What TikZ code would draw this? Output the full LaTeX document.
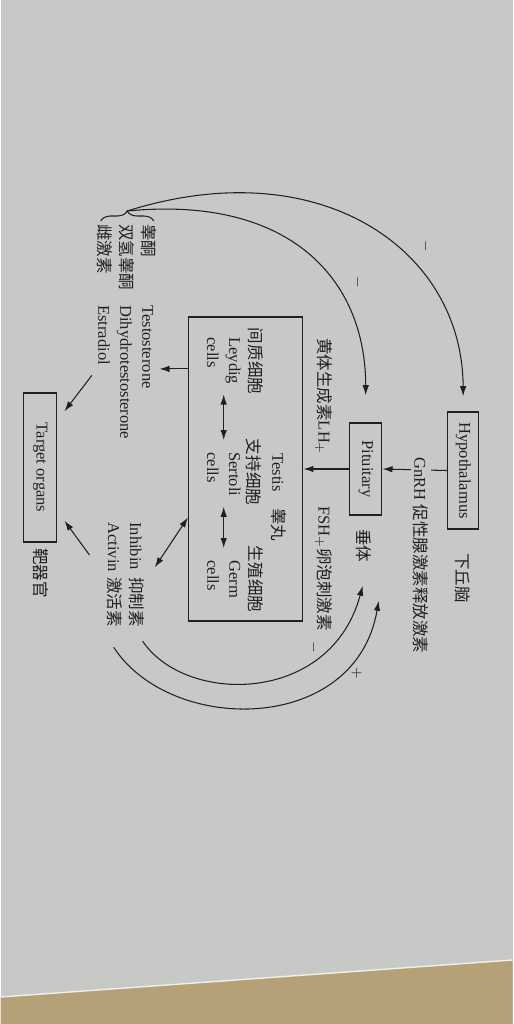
\documentclass[tikz,border=0pt]{standalone}
\usepackage{fontspec}
\setmainfont{Liberation Serif}
\newfontfamily\cjk{Noto Sans CJK SC}
\usepackage{tikz}
\usetikzlibrary{arrows.meta,calc,decorations.pathreplacing}
\definecolor{paper}{RGB}{199,201,198}
\definecolor{desk}{RGB}{181,161,120}
\definecolor{ink}{RGB}{32,32,32}

\begin{document}
\begin{tikzpicture}[x=0.2mm, y=-0.2mm,
  >={Latex[length=2mm,width=1.3mm]},
  txt/.style={rotate=-90, inner sep=0pt, text=ink, font=\fontsize{9.4}{12.5}\selectfont},
  organ/.style={txt, draw=ink, line width=0.9pt},
  link/.style={draw=ink, line width=0.6pt},
  sign/.style={txt, font=\fontsize{8}{10}\selectfont}]

% Page and desk
\fill[paper] (0,0) rectangle (512,1024);
\fill[desk] (0,997) -- (512,960) -- (512,1024) -- (0,1024) -- cycle;
\draw[white!70!paper, line width=0.8pt] (0,997) -- (512,960);
\useasboundingbox (0,0) rectangle (512,1024);

% Glands
\node[organ, minimum width=23.4mm, minimum height=6.2mm] (hyp) at (462.5,470.5) {Hypothalamus};
\node[txt, anchor=west] (hypzh) at (462,553) {\cjk 下丘脑};
\node[organ, minimum width=18.4mm, minimum height=6.4mm] (pit) at (365,469) {Pituitary};
\node[txt, anchor=west] (pitzh) at (363,529) {\cjk 垂体};
\node[draw=ink, line width=0.9pt, minimum width=22.8mm, minimum height=60.8mm] (testis) at (245,469) {};
\node[organ, minimum width=29.8mm, minimum height=6.6mm] (tgt) at (39.5,467.5) {Target organs};
\node[txt, anchor=west] (tgtzh) at (40,548) {\cjk 靶器官};

% GnRH, LH and FSH
\draw[link,->] (hyp.south) -- (pit.north);
\node[txt, anchor=west, fill=paper, inner ysep=0.5mm] (gnrh) at (420,457) {GnRH {\cjk 促性腺激素释放激素}};
\draw[link,->] (pit.south) -- (testis.east);
\node[txt, anchor=east] (lh) at (323,455) {{\cjk 黄体生成素}LH$_+$};
\node[txt, anchor=west] (fsh) at (323,506) {FSH$_+${\cjk 卵泡刺激素}};

% Inside the testis
\node[txt, anchor=west] (testislbl) at (278,453) {Testis\quad{\cjk 睾丸}};
\node[txt] (leydigzh) at (255,361) {\cjk 间质细胞};
\node[txt, anchor=west, align=left] (leydig) at (223,337) {Leydig\\cells};
\node[txt] (sertolizh) at (253,472) {\cjk 支持细胞};
\node[txt, anchor=west, align=left] (sertoli) at (223,452) {Sertoli\\cells};
\node[txt] (germzh) at (255,579) {\cjk 生殖细胞};
\node[txt, anchor=west, align=left] (germ) at (223,560) {Germ\\cells};
\draw[link,<->, shorten <=2mm, shorten >=2.4mm] (leydig.east) -- (sertoli.west);
\draw[link,<->, shorten <=2mm, shorten >=2.4mm] (sertoli.east) -- (germ.west);

% Steroids
\node[txt, anchor=west, align=left] (horm) at (125,305) {Testosterone\\Dihydrotestosterone\\Estradiol};
\node[txt, anchor=west, align=left] (hormzh) at (126,224) {\cjk 睾酮\\\cjk 双氢睾酮\\\cjk 雌激素};
\draw[link, decorate, decoration={brace, amplitude=2mm}] (100,221) -- (153,221);
\coordinate (hormtip) at (126.5,211);
\draw[link,->] (testis.120) -- ($(testis.120 -| horm.north)+(6,0)$);
\draw[link,->] ($(horm.south)+(-6,3)$) -- ($(tgt.north west)+(7,19)$);

% Steroid feedback
\draw[link,->, shorten >=3mm] (hormtip) .. controls (320,150) and (462,250) .. (hyp.west);
\draw[link,->, shorten >=5.4mm] (hormtip) .. controls (290,195) and (365,280) .. (pit.west);
\node[sign] at (425,246) {$-$};
\node[sign] at (357,282) {$-$};

% Inhibin and activin
\node[txt, anchor=west, align=left] (inhib) at (124,522) {Inhibin\\Activin};
\node[txt, anchor=west] (inhzh) at (136,577) {\cjk 抑制素};
\node[txt, anchor=west] (actzh) at (114,577) {\cjk 激活素};
\draw[link,<->] (testis.220) -- ($(inhib.north east)+(13,-5)$);
\draw[link,->] ($(inhib.south)+(-18,8)$) -- ($(tgt.north east)+(7,-22)$);
\draw[link,->] ($(inhzh.east)+(6,14)$) .. controls (185,705) and (330,705) .. ($(pit.east)+(-3,70)$);
\draw[link,->] ($(actzh.east)+(-1,20)$) .. controls (170,735) and (355,735) .. ($(pit.east)+(13,85)$);
\node[sign] at (313,647) {$-$};
\node[sign] at (356,673) {$+$};

\end{tikzpicture}
\end{document}
